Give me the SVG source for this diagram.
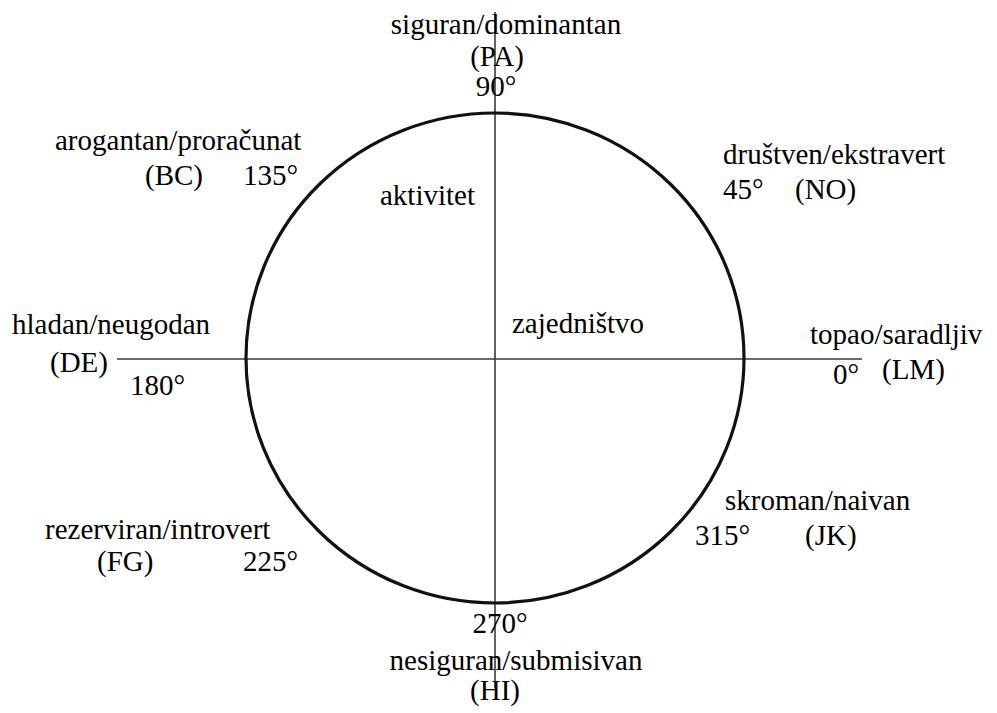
<svg xmlns="http://www.w3.org/2000/svg" width="997" height="713" viewBox="0 0 997 713" font-family="Liberation Serif, Times New Roman, serif">
<rect width="997" height="713" fill="#fff"/>
<g id="connectors" stroke="#3a3a3a" stroke-width="1.6" fill="none">
<line x1="495" y1="12" x2="495" y2="688"/>
<line x1="117" y1="359" x2="862" y2="359"/>
</g>
<g id="circle"><ellipse cx="495" cy="358" rx="249" ry="245" stroke="#111" stroke-width="3.2" fill="none"/></g>
<g id="top">
<text x="506" y="34" font-family="Liberation Serif, Times New Roman, serif" font-size="29" text-anchor="middle">siguran/dominantan</text>
<text x="497" y="66" font-family="Liberation Serif, Times New Roman, serif" font-size="29" text-anchor="middle">(PA)</text>
<text x="496" y="96" font-family="Liberation Serif, Times New Roman, serif" font-size="29" text-anchor="middle">90°</text>
</g>
<g id="bc">
<text x="55" y="150" font-family="Liberation Serif, Times New Roman, serif" font-size="29">arogantan/proračunat</text>
<text x="145" y="185" font-family="Liberation Serif, Times New Roman, serif" font-size="29">(BC)</text>
<text x="243" y="185" font-family="Liberation Serif, Times New Roman, serif" font-size="29">135°</text>
</g>
<g id="no">
<text x="723" y="164" font-family="Liberation Serif, Times New Roman, serif" font-size="29">društven/ekstravert</text>
<text x="723" y="199" font-family="Liberation Serif, Times New Roman, serif" font-size="29">45°</text>
<text x="795" y="199" font-family="Liberation Serif, Times New Roman, serif" font-size="29">(NO)</text>
</g>
<g id="aktivitet"><text x="380" y="205" font-family="Liberation Serif, Times New Roman, serif" font-size="29">aktivitet</text></g>
<g id="zajednistvo"><text x="512" y="333" font-family="Liberation Serif, Times New Roman, serif" font-size="29">zajedništvo</text></g>
<g id="de">
<text x="12" y="334" font-family="Liberation Serif, Times New Roman, serif" font-size="29">hladan/neugodan</text>
<text x="50" y="372" font-family="Liberation Serif, Times New Roman, serif" font-size="29">(DE)</text>
<text x="130" y="395" font-family="Liberation Serif, Times New Roman, serif" font-size="29">180°</text>
</g>
<g id="lm">
<text x="810" y="344" font-family="Liberation Serif, Times New Roman, serif" font-size="29">topao/saradljiv</text>
<text x="833" y="384" font-family="Liberation Serif, Times New Roman, serif" font-size="29">0°</text>
<text x="882" y="379" font-family="Liberation Serif, Times New Roman, serif" font-size="29">(LM)</text>
</g>
<g id="fg">
<text x="45" y="539" font-family="Liberation Serif, Times New Roman, serif" font-size="29">rezerviran/introvert</text>
<text x="97" y="571" font-family="Liberation Serif, Times New Roman, serif" font-size="29">(FG)</text>
<text x="243" y="571" font-family="Liberation Serif, Times New Roman, serif" font-size="29">225°</text>
</g>
<g id="jk">
<text x="725" y="510" font-family="Liberation Serif, Times New Roman, serif" font-size="29">skroman/naivan</text>
<text x="695" y="545" font-family="Liberation Serif, Times New Roman, serif" font-size="29">315°</text>
<text x="805" y="545" font-family="Liberation Serif, Times New Roman, serif" font-size="29">(JK)</text>
</g>
<g id="hi">
<text x="500" y="633" font-family="Liberation Serif, Times New Roman, serif" font-size="29" text-anchor="middle">270°</text>
<text x="516" y="670" font-family="Liberation Serif, Times New Roman, serif" font-size="29" text-anchor="middle">nesiguran/submisivan</text>
<text x="495" y="700" font-family="Liberation Serif, Times New Roman, serif" font-size="29" text-anchor="middle">(HI)</text>
</g>
</svg>
